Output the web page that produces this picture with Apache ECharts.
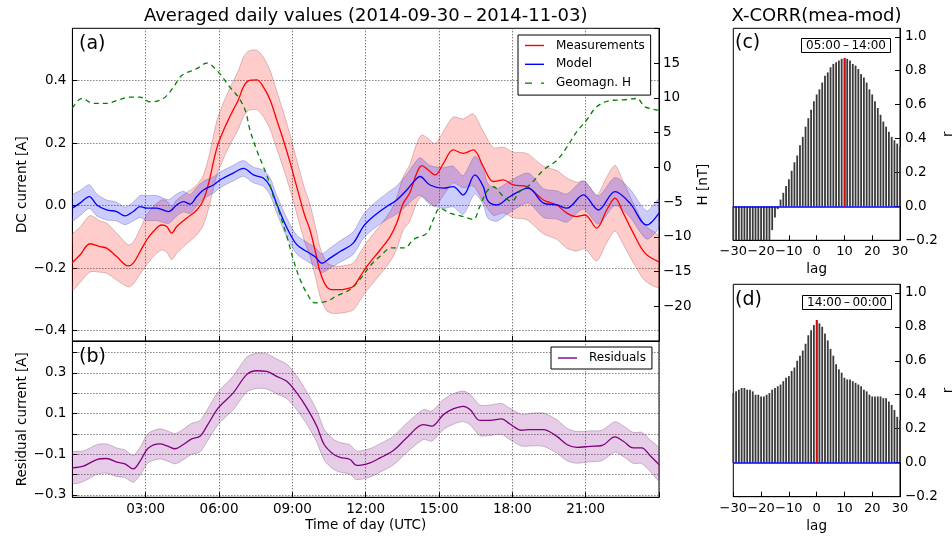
<!DOCTYPE html>
<html><head><meta charset="utf-8">
<script src="https://cdn.jsdelivr.net/npm/echarts@6/dist/echarts.min.js"></script>
<style>html,body{margin:0;padding:0;background:#fff}#c{width:952px;height:536px}</style>
</head><body><div id="c"></div>
<script>
const FONT = '"DejaVu Sans", sans-serif';

// ---------- Panel (a): time of day [h] ----------
const measT = [0,0.31,0.72,1.13,1.4,1.81,2.29,2.49,2.77,3.04,3.31,3.65,3.86,4.06,4.27,4.68,5.09,5.36,5.6,5.8,5.97,6.31,6.58,6.79,7.0,7.2,7.54,7.81,8.09,8.36,8.63,8.9,9.18,9.5,9.72,9.99,10.13,10.4,10.68,10.95,11.2,11.49,11.77,12.04,12.59,13.0,13.27,13.54,13.8,14.09,14.29,14.56,14.84,15.18,15.58,15.99,16.4,16.81,17.22,17.63,18.04,18.59,19.27,19.82,20.23,20.63,20.97,21.45,21.86,22.2,22.54,22.95,23.43,24];
const measV = [-0.182,-0.158,-0.122,-0.131,-0.136,-0.163,-0.193,-0.184,-0.147,-0.110,-0.083,-0.062,-0.067,-0.088,-0.067,-0.040,-0.014,0.018,0.08,0.15,0.199,0.263,0.306,0.338,0.38,0.399,0.402,0.38,0.338,0.274,0.21,0.14,0.06,-0.03,-0.078,-0.163,-0.211,-0.259,-0.269,-0.269,-0.266,-0.259,-0.227,-0.195,-0.142,-0.099,-0.056,0.008,0.04,0.104,0.128,0.114,0.098,0.135,0.178,0.167,0.178,0.125,0.077,0.082,0.066,0.061,0.018,0.002,-0.024,-0.035,-0.030,-0.072,-0.014,0.024,-0.024,-0.088,-0.152,-0.18];
const measErr = [0.088,0.088,0.09,0.082,0.08,0.075,0.067,0.067,0.072,0.08,0.08,0.08,0.082,0.085,0.085,0.082,0.08,0.08,0.082,0.085,0.088,0.09,0.092,0.094,0.095,0.095,0.095,0.095,0.094,0.092,0.09,0.088,0.086,0.085,0.083,0.08,0.078,0.077,0.076,0.075,0.075,0.075,0.076,0.077,0.078,0.08,0.082,0.085,0.09,0.095,0.098,0.1,0.1,0.102,0.105,0.11,0.115,0.112,0.108,0.105,0.105,0.106,0.108,0.11,0.112,0.11,0.108,0.105,0.105,0.105,0.1,0.095,0.088,0.08];

const modelT = [0,0.31,0.69,1.0,1.4,1.81,2.15,2.49,2.77,3.04,3.45,3.93,4.27,4.54,4.81,5.09,5.36,5.77,6.04,6.58,7.0,7.41,7.81,8.09,8.36,8.77,9.18,9.59,9.92,10.2,10.54,10.95,11.49,11.9,12.31,12.86,13.27,13.68,13.95,14.22,14.63,15.18,15.58,15.99,16.47,16.81,17.0,17.36,17.9,18.65,19.27,19.82,20.23,20.9,21.52,22.2,22.81,23.5,24];
const modelV = [-0.008,0.008,0.029,0.002,-0.014,-0.019,-0.033,-0.019,-0.003,-0.008,-0.008,-0.019,0.002,0.013,0.005,0.029,0.05,0.066,0.082,0.104,0.119,0.098,0.088,0.061,0.005,-0.07,-0.125,-0.147,-0.163,-0.184,-0.168,-0.147,-0.12,-0.067,-0.035,-0.003,0.018,0.05,0.075,0.093,0.066,0.056,0.061,0.034,0.098,0.061,0.015,0.002,0.029,0.056,0.008,0.002,-0.008,0.034,-0.014,0.045,0.008,-0.062,-0.024];
const modelErr = [0.04,0.04,0.038,0.035,0.032,0.03,0.028,0.03,0.035,0.04,0.04,0.038,0.035,0.033,0.03,0.03,0.028,0.026,0.025,0.025,0.025,0.025,0.026,0.027,0.028,0.03,0.03,0.03,0.03,0.03,0.032,0.034,0.036,0.038,0.04,0.042,0.045,0.05,0.055,0.06,0.062,0.065,0.065,0.062,0.06,0.058,0.055,0.052,0.05,0.048,0.046,0.045,0.045,0.045,0.045,0.045,0.045,0.045,0.045];

const geoT = [0,0.38,0.86,1.4,1.81,2.36,2.77,3.18,3.72,4.13,4.47,5.09,5.5,5.97,6.45,6.79,7.07,7.27,7.54,7.81,8.02,8.22,8.43,8.77,9.04,9.31,9.59,9.92,10.4,10.81,11.36,11.77,12.18,12.59,13.06,13.6,13.95,14.5,14.77,15.04,15.45,16.0,16.4,16.67,16.95,17.22,17.63,17.97,18.3,18.72,19.27,19.82,20.23,20.63,21.04,21.45,22.0,22.54,23.09,23.43,24];
const geoH = [8.5,9.9,9.2,9.2,9.6,10.1,10.1,9.4,9.9,11.5,13.2,14.2,15.0,13.7,11.5,10.1,8.2,5.3,2.5,0.1,-1.8,-4.2,-6.1,-9.9,-13.3,-16.1,-18.1,-19.5,-19.3,-18.5,-17.6,-16.1,-14.2,-12.8,-11.6,-11.6,-10.4,-9.5,-7.5,-5.9,-6.6,-7.1,-7.5,-5.6,-3.5,-2.8,-4.2,-4.9,-3.5,-2.5,-0.4,1.0,2.9,5.1,6.8,8.7,9.6,9.7,9.9,8.7,8.2];

// ---------- Panel (b) ----------
const resT = [0,0.45,1.0,1.4,1.81,2.15,2.49,2.77,3.11,3.58,3.9,4.2,4.54,4.88,5.22,5.5,5.97,6.58,7.13,7.54,7.95,8.36,8.77,9.18,9.59,10.0,10.3,10.68,10.95,11.36,11.63,12.18,12.59,13.13,13.68,14.36,14.7,15.18,15.58,15.99,16.27,16.67,17.08,17.56,17.9,18.38,18.72,19.27,19.82,20.23,20.63,21.18,21.66,22.2,22.54,22.95,23.29,23.63,24];
const resV = [-0.167,-0.159,-0.126,-0.121,-0.139,-0.147,-0.172,-0.134,-0.069,-0.049,-0.06,-0.073,-0.052,-0.024,-0.012,0.038,0.128,0.202,0.292,0.311,0.308,0.283,0.259,0.202,0.128,0.038,-0.052,-0.1,-0.115,-0.126,-0.155,-0.142,-0.118,-0.082,-0.019,0.046,0.038,0.095,0.123,0.136,0.12,0.067,0.067,0.074,0.049,0.018,0.021,0.021,-0.012,-0.052,-0.066,-0.061,-0.057,-0.015,-0.036,-0.069,-0.069,-0.106,-0.151];
const resErr = [0.075,0.075,0.073,0.072,0.07,0.068,0.066,0.068,0.072,0.074,0.074,0.074,0.075,0.076,0.077,0.078,0.08,0.083,0.086,0.087,0.087,0.086,0.085,0.083,0.08,0.078,0.076,0.074,0.073,0.072,0.07,0.07,0.07,0.071,0.072,0.073,0.074,0.074,0.075,0.075,0.075,0.075,0.075,0.076,0.077,0.078,0.08,0.082,0.082,0.08,0.078,0.076,0.075,0.075,0.075,0.076,0.077,0.078,0.078];

// ---------- Panels (c), (d): cross-correlation ----------
const lags = [-30,-29,-28,-27,-26,-25,-24,-23,-22,-21,-20,-19,-18,-17,-16,-15,-14,-13,-12,-11,-10,-9,-8,-7,-6,-5,-4,-3,-2,-1,0,1,2,3,4,5,6,7,8,9,10,11,12,13,14,15,16,17,18,19,20,21,22,23,24,25,26,27,28,29,30];
const corrC = [-0.35,-0.36,-0.37,-0.38,-0.38,-0.38,-0.37,-0.36,-0.35,-0.33,-0.31,-0.29,-0.26,-0.23,-0.14,-0.065,-0.016,0.04,0.08,0.12,0.16,0.21,0.26,0.30,0.36,0.41,0.47,0.52,0.57,0.62,0.66,0.69,0.73,0.77,0.79,0.82,0.84,0.85,0.86,0.87,0.875,0.87,0.86,0.84,0.83,0.81,0.78,0.76,0.73,0.69,0.66,0.62,0.58,0.54,0.50,0.47,0.44,0.41,0.39,0.37,0.35];
const corrD = [0.41,0.42,0.43,0.44,0.44,0.43,0.43,0.42,0.40,0.40,0.39,0.39,0.40,0.41,0.43,0.44,0.45,0.46,0.48,0.50,0.51,0.54,0.56,0.60,0.63,0.66,0.70,0.75,0.78,0.81,0.84,0.82,0.80,0.76,0.72,0.67,0.63,0.58,0.55,0.53,0.50,0.49,0.49,0.48,0.47,0.46,0.45,0.43,0.42,0.40,0.39,0.39,0.39,0.39,0.38,0.38,0.36,0.34,0.31,0.27,0.25];

// ---------- tick values / labels ----------
const hourTicks = [0,3,6,9,12,15,18,21,24];
const hourLabels = [3,6,9,12,15,18,21];
const dcTicks = [-0.4,-0.2,0,0.2,0.4];
const hTicks = [-25,-20,-15,-10,-5,0,5,10,15,20];
const hLabels = [-20,-15,-10,-5,0,5,10,15];
const resTicks = [-0.3,-0.2,-0.1,0,0.1,0.2,0.3,0.4];
const resLabels = [-0.3,-0.1,0.1,0.3];
const lagTicks = [-30,-20,-10,0,10,20,30];
const rTicks = [-0.2,0,0.2,0.4,0.6,0.8,1.0];

const BLK = '#000';
const minus = s => String(s).replace('-', '\u2212');
const fmt1 = v => minus((Math.abs(v) < 1e-9 ? 0 : v).toFixed(1));
const fmt0 = v => minus(Math.round(v));
const fmtHour = v => (v < 10 ? '0' : '') + Math.round(v) + ':00';
const dotted = {show: true, lineStyle: {color: '#444', width: 1, type: [1, 2]}};

function axis(o) {
  return {
    type: 'value', gridIndex: o.grid, position: o.pos, min: o.min, max: o.max,
    axisLine: {show: true, onZero: false, lineStyle: {color: BLK, width: 1}},
    axisTick: {show: true, inside: true, length: 5, customValues: o.ticks, lineStyle: {color: BLK, width: 1}},
    axisLabel: {show: !!o.labels, customValues: o.labels || o.ticks, formatter: o.fmt, color: BLK,
      fontSize: o.fontSize || 13.5, fontFamily: FONT, margin: o.margin == null ? 6 : o.margin, hideOverlap: false,
      interval: 0, showMinLabel: true, showMaxLabel: true},
    splitLine: o.split ? dotted : {show: false},
    name: o.name || '', nameLocation: 'middle', nameGap: o.nameGap || 0, nameRotate: o.nameRotate,
    nameMoveOverlap: false,
    nameTextStyle: {color: BLK, fontSize: 13.5, fontFamily: FONT}
  };
}

function pairs(t, v) { return t.map((x, i) => [x, v[i]]); }

function band(name, t, v, e, xi, yi, fill, stroke) {
  const data = t.map((x, i) => [x, v[i] - e[i], v[i] + e[i]]);
  return {
    name, type: 'custom', xAxisIndex: xi, yAxisIndex: yi, silent: true, z: 1, clip: true,
    data, encode: {x: 0, y: [1, 2]},
    renderItem(params, api) {
      if (params.dataIndex !== 0) return null;
      const up = data.map(d => api.coord([d[0], d[2]]));
      const lo = data.map(d => api.coord([d[0], d[1]])).reverse();
      return {type: 'polygon', shape: {points: up.concat(lo), smooth: 0.25},
        style: {fill, stroke, lineWidth: 1}};
    }
  };
}

function line(name, t, v, xi, yi, color, type) {
  return {name, type: 'line', xAxisIndex: xi, yAxisIndex: yi, data: pairs(t, v),
    symbol: 'none', showSymbol: false, smooth: 0.35, z: 3, silent: true,
    lineStyle: {color, width: 1.3, type: type || 'solid'}, itemStyle: {color}};
}

function peakOf(arr) { let k = 0; arr.forEach((v, i) => { if (v > arr[k]) k = i; }); return k; }

function bars(name, vals, xi, yi) {
  const k = peakOf(vals);
  return {name, type: 'bar', xAxisIndex: xi, yAxisIndex: yi, data: pairs(lags, vals),
    barWidth: 1.8, clip: true, silent: true, itemStyle: {color: '#3a3a3a'},
    markLine: {silent: true, symbol: 'none', label: {show: false}, animation: false,
      data: [
        {yAxis: 0, lineStyle: {color: '#0000ff', width: 1.5, type: 'solid'}},
        [{coord: [lags[k], 0], lineStyle: {color: '#ff0000', width: 1.5, type: 'solid'}}, {coord: [lags[k], vals[k]]}]
      ]}};
}

const gridBase = {show: true, borderColor: BLK, borderWidth: 1, backgroundColor: 'transparent', containLabel: false, outerBoundsMode: 'none'};

const txt = (text, left, top, size, extra) => Object.assign({text, left, top, padding: 0,
  textStyle: {fontFamily: FONT, fontSize: size, fontWeight: 'normal', color: BLK}}, extra || {});

const ICON_SOLID = 'path://M0,0H19V1.4H0Z';
const ICON_DASH = 'path://M0,0H7V1.4H0Z M16,0H19V1.4H16Z';
const legendText = {fontFamily: FONT, fontSize: 12, color: BLK, padding: [0, 0, 0, 7]};

const option = {
  animation: false,
  backgroundColor: '#fff',
  textStyle: {fontFamily: FONT},
  title: [
    txt('Averaged daily values (2014-09-30\u2009\u2013\u20092014-11-03)', 365.7, 7, 18, {textAlign: 'center'}),
    txt('X-CORR(mea-mod)', 816.5, 7, 18, {textAlign: 'center'}),
    txt('(a)', 79, 35, 19),
    txt('(b)', 79, 348, 19),
    txt('(c)', 735, 34, 19),
    txt('(d)', 735, 291, 19),
    txt('05:00\u2009\u2013\u200914:00', 801, 38, 12, {borderColor: BLK, borderWidth: 1, padding: [2, 5, 1, 5]}),
    txt('14:00\u2009\u2013\u200900:00', 802, 295, 12, {borderColor: BLK, borderWidth: 1, padding: [2, 5, 1, 5]})
  ],
  legend: [
    {data: [{name: 'Measurements', icon: ICON_SOLID}, {name: 'Model', icon: ICON_SOLID}, {name: 'Geomagn. H', icon: ICON_DASH}],
      orient: 'vertical', left: 518, top: 35,
      itemWidth: 19, itemHeight: 1.4, itemGap: 6.8, padding: [4.5, 6, 6, 7], borderColor: BLK, borderWidth: 1,
      backgroundColor: '#fff', selectedMode: false, textStyle: legendText},
    {data: [{name: 'Residuals', icon: ICON_SOLID}], orient: 'vertical', left: 551, top: 347,
      itemWidth: 19, itemHeight: 1.4, padding: [5, 6, 5, 7], borderColor: BLK, borderWidth: 1,
      backgroundColor: '#fff', selectedMode: false, textStyle: legendText}
  ],
  grid: [
    Object.assign({left: 72.4, top: 28.3, width: 586.6, height: 312.7}, gridBase),
    Object.assign({left: 72.4, top: 341.3, width: 586.6, height: 156}, gridBase),
    Object.assign({left: 733.3, top: 28.3, width: 166.7, height: 212}, gridBase),
    Object.assign({left: 733.3, top: 284.3, width: 166.7, height: 212.4}, gridBase)
  ],
  xAxis: [
    axis({grid: 0, pos: 'bottom', min: 0, max: 24, ticks: hourTicks, split: true}),
    axis({grid: 1, pos: 'bottom', min: 0, max: 24, ticks: hourTicks, labels: hourLabels, fmt: fmtHour, split: true,
      margin: 5, name: 'Time of day (UTC)', nameGap: 21}),
    axis({grid: 2, pos: 'bottom', min: -30, max: 30, ticks: lagTicks, labels: lagTicks, fmt: fmt0, margin: 5,
      fontSize: 13, name: 'lag', nameGap: 22}),
    axis({grid: 3, pos: 'bottom', min: -30, max: 30, ticks: lagTicks, labels: lagTicks, fmt: fmt0, margin: 5,
      fontSize: 13, name: 'lag', nameGap: 23})
  ],
  yAxis: [
    axis({grid: 0, pos: 'left', min: -0.433, max: 0.567, ticks: dcTicks, labels: dcTicks, fmt: fmt1, split: true,
      name: 'DC current [A]', nameGap: 43}),
    axis({grid: 0, pos: 'right', min: -25, max: 20, ticks: hTicks, labels: hLabels, fmt: fmt0, margin: 4,
      name: 'H [nT]', nameGap: 37}),
    axis({grid: 1, pos: 'left', min: -0.312, max: 0.456, ticks: resTicks, labels: resLabels, fmt: fmt1, split: true,
      name: 'Residual current [A]', nameGap: 43}),
    axis({grid: 2, pos: 'right', min: -0.2, max: 1.05, ticks: rTicks, labels: rTicks, fmt: fmt1, margin: 5,
      name: 'r', nameGap: 41}),
    axis({grid: 3, pos: 'right', min: -0.2, max: 1.05, ticks: rTicks, labels: rTicks, fmt: fmt1, margin: 5,
      name: 'r', nameGap: 41})
  ],
  series: [
    band('measBand', measT, measV, measErr, 0, 0, 'rgba(255,0,0,0.2)', 'rgba(150,90,90,0.35)'),
    band('modelBand', modelT, modelV, modelErr, 0, 0, 'rgba(0,0,255,0.2)', 'rgba(90,90,150,0.35)'),
    line('Measurements', measT, measV, 0, 0, '#ff0000'),
    line('Model', modelT, modelV, 0, 0, '#0000ff'),
    line('Geomagn. H', geoT, geoH, 0, 1, '#008000', [5, 4]),
    band('resBand', resT, resV, resErr, 1, 2, 'rgba(128,0,128,0.2)', 'rgba(120,80,120,0.35)'),
    line('Residuals', resT, resV, 1, 2, '#800080'),
    bars('corrC', corrC, 2, 3),
    bars('corrD', corrD, 3, 4)
  ]
};

const chart = echarts.init(document.getElementById('c'), null, {renderer: 'canvas'});
chart.setOption(option);
</script>
</body></html>
